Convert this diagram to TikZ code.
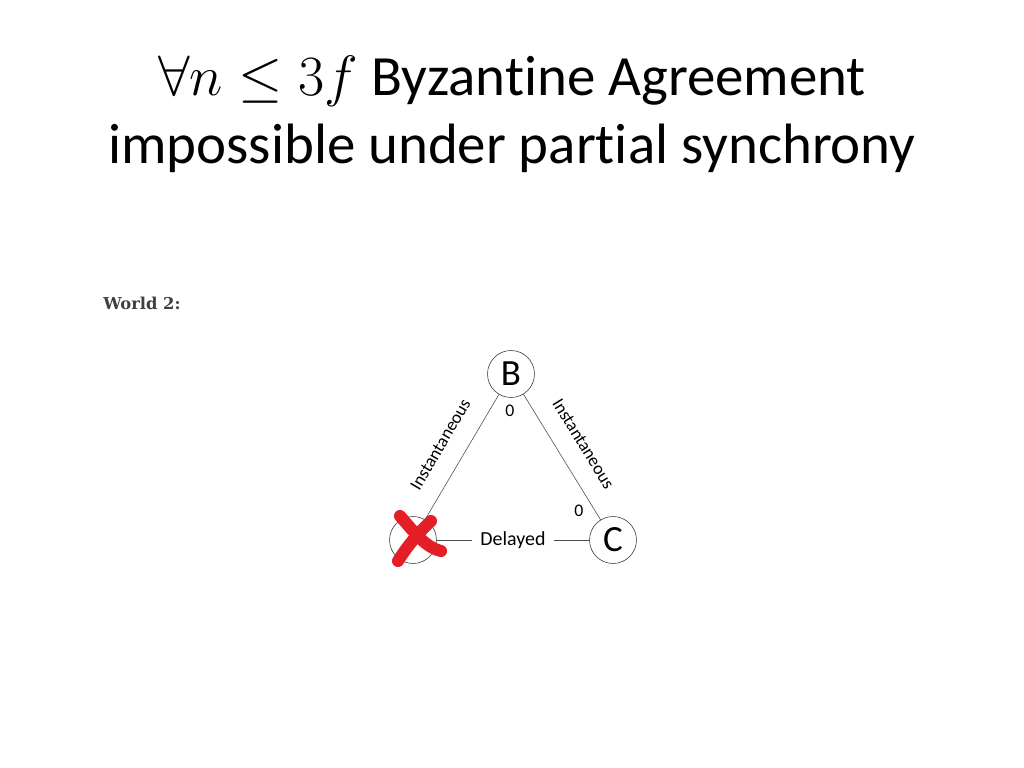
\documentclass[tikz,border=0pt]{standalone}
\usepackage{fix-cm}
\usepackage{fontspec}
\setmainfont{Carlito}[Ligatures=NoCommon]
\newfontfamily\worldfont{DejaVu Serif}
\definecolor{crossred}{RGB}{228,30,38}
\begin{document}
\begin{tikzpicture}[x=0.703pt, y=-0.703pt,
    proc/.style={draw=black!80, circle, minimum size=33pt, inner sep=0pt, font=\fontsize{26}{26}\selectfont},
    lbl/.style={font=\fontsize{12.5}{12.5}\selectfont}]
\useasboundingbox (0,0) rectangle (1024,768);

% title
\node (title) at (512,114) [align=center, font=\fontsize{40}{48}\selectfont]
    {$\forall n \le 3f$ Byzantine Agreement\\impossible under partial synchrony};
\node (world) at (142,303) [font=\worldfont\bfseries\fontsize{11.5}{11.5}\selectfont, text=black!75]{World 2:};

% processes
\node[proc] (A) at (413,540){};
\node[proc] (B) at (511,374){B};
\node[proc] (C) at (613,540){C};

\draw[black!70] (A)--(B) node[midway, sloped, above=10pt, lbl, text=black]{Instantaneous};
\draw[black!70] (B)--(C) node[midway, sloped, above=10pt, lbl, text=black]{Instantaneous};
\draw[black!70] (A)--(C) node[midway, fill=white, inner xsep=6pt, font=\fontsize{14}{14}\selectfont, text=black]{Delayed};

\node[lbl] (zb) at (510,411){0};
\node[lbl] (zc) at (579,511){0};

% crossed out
\draw[crossred, line width=8.5pt, line cap=round] (400,516) .. controls (415,533) and (425,547) .. (441,551);
\draw[crossred, line width=8.5pt, line cap=round] (431,521) .. controls (418,533) and (406,548) .. (398,561);
\end{tikzpicture}
\end{document}
